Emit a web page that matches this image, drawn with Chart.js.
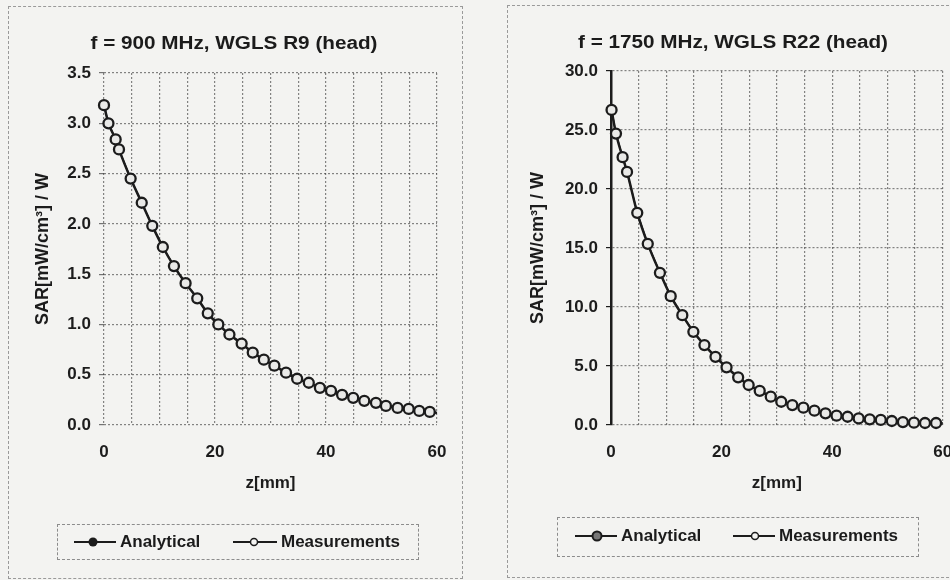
<!DOCTYPE html>
<html lang="en">
<head>
<meta charset="UTF-8">
<title>SAR vs z</title>
<script src="https://cdn.jsdelivr.net/npm/chart.js"></script>
<style>
    body {
        margin: 0;
        background: #f3f3f1;
        font-family: "Liberation Sans", Arial, sans-serif;
        color: #1b1b1b;
    }
    #page {
        position: relative;
        width: 950px;
        height: 580px;
        overflow: hidden;
    }
    .frame {
        position: absolute;
        border: 1px dashed #9a9a9a;
    }
    .chart-box {
        position: absolute;
        top: 0;
        width: 475px;
        height: 580px;
    }
    .title {
        position: absolute;
        font-weight: bold;
        font-size: 18px;
        white-space: nowrap;
        transform: translate(-50%, -50%) scaleX(1.15);
    }
    .legend {
        position: absolute;
        border: 1px dashed #8c8c8c;
    }
    .leg-item {
        position: absolute;
        display: flex;
        align-items: center;
        font-weight: bold;
        font-size: 17px;
        white-space: nowrap;
        transform: translateY(-50%);
    }
    .leg-item svg { margin-right: 4px; }
</style>
</head>
<body>
<div id="page">
    <div class="frame" style="left:8px; top:6px; width:453px; height:571px;"></div>
    <div class="frame" style="left:507px; top:5px; width:460px; height:571px;"></div>

    <div class="chart-box" style="left:0;"><canvas id="chart-900" width="475" height="580"></canvas></div>
    <div class="chart-box" style="left:475px;"><canvas id="chart-1750" width="475" height="580"></canvas></div>

    <div class="title" style="left:234px; top:43px;">f = 900 MHz, WGLS R9 (head)</div>
    <div class="title" style="left:733px; top:42px;">f = 1750 MHz, WGLS R22 (head)</div>

    <!-- легенда слева -->
    <div class="legend" style="left:57px; top:524px; width:360px; height:34px;"></div>
    <div class="leg-item" style="left:74px; top:542px;">
        <svg width="42" height="12"><line x1="0" y1="6" x2="42" y2="6" stroke="#1c1c1c" stroke-width="2"/><circle cx="19" cy="6" r="4.5" fill="#1c1c1c"/></svg>Analytical
    </div>
    <div class="leg-item" style="left:233px; top:542px;">
        <svg width="44" height="12"><line x1="0" y1="6" x2="44" y2="6" stroke="#1c1c1c" stroke-width="2"/><circle cx="21" cy="6" r="3.5" fill="#f3f3f1" stroke="#1c1c1c" stroke-width="1.5"/></svg>Measurements
    </div>

    <!-- легенда справа -->
    <div class="legend" style="left:557px; top:517px; width:360px; height:38px;"></div>
    <div class="leg-item" style="left:575px; top:536px;">
        <svg width="42" height="12"><line x1="0" y1="6" x2="42" y2="6" stroke="#1c1c1c" stroke-width="2"/><circle cx="22" cy="6" r="4.5" fill="#777" stroke="#1c1c1c" stroke-width="2"/></svg>Analytical
    </div>
    <div class="leg-item" style="left:733px; top:536px;">
        <svg width="42" height="12"><line x1="0" y1="6" x2="42" y2="6" stroke="#1c1c1c" stroke-width="2"/><circle cx="22" cy="6" r="3.5" fill="#f3f3f1" stroke="#1c1c1c" stroke-width="1.5"/></svg>Measurements
    </div>
</div>

<script>
    // f = 900 MHz, WGLS R9
    var z900 = [0, 0.8, 2.1, 2.7, 4.8, 6.8, 8.7, 10.6, 12.6, 14.7, 16.8, 18.7, 20.6, 22.6, 24.8, 26.8,
                28.8, 30.7, 32.8, 34.8, 36.9, 38.9, 40.9, 42.9, 44.9, 46.9, 49.0, 50.8, 52.9, 54.9, 56.8, 58.7];
    var meas900 = [3.18, 3.00, 2.84, 2.74, 2.45, 2.21, 1.98, 1.77, 1.58, 1.41, 1.26, 1.11, 1.00, 0.90, 0.81, 0.72,
                   0.65, 0.59, 0.52, 0.46, 0.42, 0.37, 0.34, 0.30, 0.27, 0.24, 0.22, 0.19, 0.17, 0.16, 0.14, 0.13];
    var zAnal900 = z900.concat([60]);
    var anal900 = meas900.concat([0.12]);

    // f = 1750 MHz, WGLS R22
    var z1750 = [0.1, 0.9, 2.1, 2.9, 4.75, 6.65, 8.85, 10.8, 12.9, 14.9, 16.9, 18.9, 20.9, 23.0, 24.9, 26.9,
                 28.9, 30.8, 32.8, 34.8, 36.8, 38.8, 40.8, 42.8, 44.8, 46.8, 48.8, 50.8, 52.8, 54.8, 56.8, 58.8];
    var meas1750 = [26.7, 24.7, 22.7, 21.45, 17.98, 15.35, 12.9, 10.92, 9.31, 7.9, 6.77, 5.78, 4.89, 4.04, 3.39, 2.9,
                    2.4, 1.97, 1.69, 1.47, 1.21, 0.99, 0.79, 0.70, 0.56, 0.48, 0.43, 0.34, 0.25, 0.20, 0.17, 0.17];
    var zAnal1750 = z1750.concat([60]);
    var anal1750 = meas1750.concat([0.15]);

    var xTicks = [0, 20, 40, 60];
    var yTicks900 = [0, 0.5, 1.0, 1.5, 2.0, 2.5, 3.0, 3.5];
    var yTicks1750 = [0, 5, 10, 15, 20, 25, 30];

    var ink = '#1c1c1c';
    var gridColor = 'rgba(55,55,55,0.6)';

    function pts(xs, ys) {
        return xs.map(function(x, i) { return { x: x, y: ys[i] }; });
    }

    function makeChart(id, zm, ym, za, ya, yTicks, o) {
        var ctx = document.getElementById(id).getContext('2d');
        return new Chart(ctx, {
            type: 'line',
            data: {
                datasets: [{
                    label: 'Measurements',
                    data: pts(zm, ym),
                    clip: false,
                    borderColor: ink,
                    borderWidth: 1.5,
                    pointRadius: 5,
                    pointBorderWidth: 2.3,
                    pointBorderColor: ink,
                    pointBackgroundColor: '#e9e9e7'
                }, {
                    label: 'Analytical',
                    data: pts(za, ya),
                    clip: false,
                    borderColor: ink,
                    borderWidth: 2.5,
                    pointRadius: 0,
                    cubicInterpolationMode: 'monotone'
                }]
            },
            options: {
                responsive: false,
                animation: false,
                layout: { padding: o.padding },
                plugins: { legend: { display: false }, tooltip: { enabled: false } },
                scales: {
                    x: {
                        type: 'linear',
                        min: 0, max: 60,
                        afterFit: function(s) { s.height = 80; s.paddingLeft = 0; s.paddingRight = 0; },
                        ticks: {
                            stepSize: 5,
                            autoSkip: false,
                            maxRotation: 0,
                            padding: 17,
                            color: ink,
                            font: { family: 'Liberation Sans', size: 17, weight: 'bold' },
                            callback: function(v) { return xTicks.indexOf(v) >= 0 ? String(v) : ''; }
                        },
                        grid: { color: gridColor, lineWidth: 1.2, tickLength: 0 },
                        border: { display: false, dash: [2, 2] },
                        title: {
                            display: true,
                            text: 'z[mm]',
                            color: ink,
                            font: { family: 'Liberation Sans', size: 17, weight: 'bold' },
                            padding: { top: 0, bottom: 11 }
                        }
                    },
                    y: {
                        min: 0,
                        max: yTicks[yTicks.length - 1],
                        afterFit: function(s) { s.width = o.yWidth; },
                        afterBuildTicks: function(s) { s.ticks = yTicks.map(function(v) { return { value: v }; }); },
                        ticks: {
                            padding: 8,
                            color: ink,
                            font: { family: 'Liberation Sans', size: 17, weight: 'bold' },
                            callback: function(v) { return v.toFixed(1); }
                        },
                        grid: { color: gridColor, lineWidth: 1.2, tickLength: 5, tickColor: o.tickColor },
                        border: o.yBorder,
                        title: {
                            display: true,
                            text: 'SAR[mW/cm³] / W',
                            color: ink,
                            font: { family: 'Liberation Sans', size: 18, weight: 'bold' },
                            padding: { top: o.titlePad, bottom: 0 }
                        }
                    }
                }
            }
        });
    }

    makeChart('chart-900', z900, meas900, zAnal900, anal900, yTicks900, {
        padding: { left: 20, top: 73, right: 38, bottom: 75 },
        yWidth: 84,
        titlePad: 12,
        tickColor: 'rgba(60,60,60,0.7)',
        yBorder: { display: false, dash: [2, 2] }
    });

    makeChart('chart-1750', z1750, meas1750, zAnal1750, anal1750, yTicks1750, {
        padding: { left: 40, top: 71, right: 7, bottom: 75 },
        yWidth: 96,
        titlePad: 12,
        tickColor: ink,
        yBorder: { display: true, color: ink, width: 2.5, dash: [2, 2] }
    });
</script>
</body>
</html>
